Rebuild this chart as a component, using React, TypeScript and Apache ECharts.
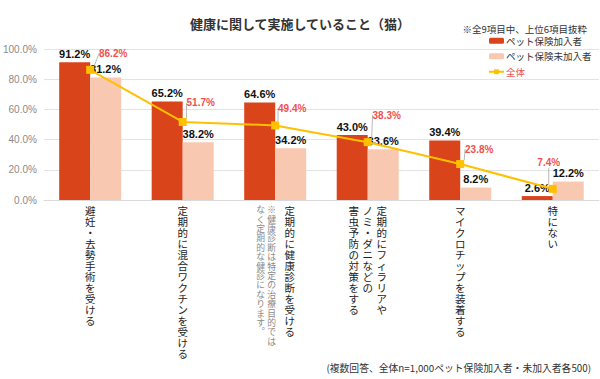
import React, { useEffect, useRef } from 'react';
import * as echarts from 'echarts';

// ---- data ----
const categoryLines: string[][] = [
  ['避妊・去勢手術を受ける'],
  ['定期的に混合ワクチンを受ける'],
  ['定期的に健康診断を受ける'],
  ['定期的にフィラリアや', 'ノミ・ダニなどの', '害虫予防の対策をする'],
  ['マイクロチップを装着する'],
  ['特にない'],
];
const categoryNotes: string[][] = [
  [],
  [],
  ['※健康診断は特定の治療目的では', 'なく定期的な健診になります︒'],
  [],
  [],
  [],
];
const insured = [91.2, 65.2, 64.6, 43.0, 39.4, 2.6];
const uninsured = [81.2, 38.2, 34.2, 33.6, 8.2, 12.2];
const overall = [86.2, 51.7, 49.4, 38.3, 23.8, 7.4];
const yTicks = [0, 20, 40, 60, 80, 100];
const seriesNames = ['ペット保険加入者', 'ペット保険未加入者', '全体'];
const titleText = '健康に関して実施していること（猫）';
const noteText = '※全9項目中、上位6項目抜粋';
const footText = '(複数回答、全体n=1,000ペット保険加入者・未加入者各500)';

// ---- styles / layout ----
const C_INS = '#D9441B';
const C_UNINS = '#F8C8B0';
const C_ALL = '#FFC000';
const C_RED = '#F05050';
const JP = '"Noto Sans CJK JP", "Noto Sans", sans-serif';
const NUM = '"Liberation Sans", Arial, sans-serif';
// label shift (dx, dy) of the overall line's labels relative to 'top' position
const overallLabelShift: [number, number][] = [
  [23, -2], [18, -5], [17, -3], [19, -13], [19, -1], [-4, -12],
];

const columnsOf = (i: number) => [
  ...categoryLines[i].map((t) => ({ t, note: false })),
  ...categoryNotes[i].map((t) => ({ t, note: true })),
];
const categories = categoryLines.map((l, i) => l.join('') + categoryNotes[i].join(''));

function columnOffsets(i: number): number[] {
  const cols = columnsOf(i);
  const xs: number[] = [0];
  for (let j = 1; j < cols.length; j++) {
    const prev = cols[j - 1];
    const cur = cols[j];
    const step = !prev.note && !cur.note ? 14 : !prev.note && cur.note ? 18 : 11;
    xs.push(xs[j - 1] - step);
  }
  const center = (xs[0] + xs[xs.length - 1]) / 2;
  return xs.map((x) => x - center);
}

const pct = (v: number) => v.toFixed(1) + '%';

export default function App() {
  const ref = useRef<HTMLDivElement>(null);
  useEffect(() => {
    if (!ref.current) return;
    document.body.style.margin = '0';
    const chart = echarts.init(ref.current, undefined, { renderer: 'svg' });
    const barLabel = {
      show: true,
      position: 'top',
      distance: 3,
      fontFamily: NUM,
      fontSize: 11,
      fontWeight: 'bold',
      color: '#111',
      formatter: (p: any) => pct(p.value),
    };
    chart.setOption({
      animation: false,
      backgroundColor: '#fff',
      title: [
        {
          text: titleText,
          left: 'center',
          top: 12,
          textStyle: { fontFamily: JP, fontSize: 13, fontWeight: 'bold', color: '#333' },
        },
        {
          text: noteText,
          right: 8,
          top: 19,
          textStyle: { fontFamily: JP, fontSize: 9.5, fontWeight: 'normal', color: '#333' },
        },
        {
          text: footText,
          right: 4,
          bottom: 1,
          textStyle: { fontFamily: JP, fontSize: 9.8, fontWeight: 'normal', color: '#333' },
        },
      ],
      legend: {
        orient: 'vertical',
        left: 483,
        top: 31,
        itemWidth: 15,
        itemHeight: 6,
        itemGap: 6,
        textStyle: { fontFamily: JP, fontSize: 9.5, color: '#333', padding: [0, 0, 0, -3] },
        data: [
          { name: seriesNames[0] },
          { name: seriesNames[1] },
          { name: seriesNames[2], textStyle: { color: C_RED } },
        ],
      },
      grid: { left: 42, right: 1, top: 49, bottom: 179 },
      xAxis: {
        type: 'category',
        data: categories,
        axisLine: { lineStyle: { color: '#d9d9d9' } },
        axisTick: { show: false },
        axisLabel: { show: false },
      },
      yAxis: {
        type: 'value',
        min: yTicks[0],
        max: yTicks[yTicks.length - 1],
        interval: yTicks[1] - yTicks[0],
        axisLine: { show: false },
        axisTick: { show: false },
        splitLine: { lineStyle: { color: '#e3e3e3' } },
        axisLabel: {
          margin: 7,
          fontFamily: NUM,
          fontSize: 10,
          color: '#8a8a8a',
          formatter: (v: number) => pct(v),
        },
      },
      series: [
        {
          name: seriesNames[0],
          type: 'bar',
          data: insured,
          barGap: '0%',
          barCategoryGap: '33%',
          itemStyle: { color: C_INS },
          label: barLabel,
        },
        {
          name: seriesNames[1],
          type: 'bar',
          data: uninsured,
          barGap: '0%',
          barCategoryGap: '33%',
          itemStyle: { color: C_UNINS },
          label: barLabel,
        },
        {
          name: seriesNames[2],
          type: 'line',
          data: overall,
          z: 5,
          symbol: 'rect',
          symbolSize: 8,
          itemStyle: { color: C_ALL },
          lineStyle: { color: C_ALL, width: 2 },
          label: {
            show: true,
            position: 'top',
            distance: 5,
            fontFamily: NUM,
            fontSize: 10,
            fontWeight: 'bold',
            color: C_RED,
            formatter: (p: any) => pct(p.value),
          },
          labelLine: { show: true, lineStyle: { color: '#a6a6a6', width: 0.8 } },
          labelLayout: (p: any) => {
            const s = overallLabelShift[p.dataIndex] || [0, 0];
            return { dx: s[0], dy: s[1] };
          },
        },
      ],
    });

    // vertical (tategaki) category labels, placed via the axis scales
    const y0 = chart.convertToPixel({ yAxisIndex: 0 }, 0) as number;
    const elems: any[] = [];
    categories.forEach((c, i) => {
      const cx = chart.convertToPixel({ xAxisIndex: 0 }, c) as number;
      const offs = columnOffsets(i);
      columnsOf(i).forEach((col, k) => {
        elems.push({
          type: 'text',
          x: cx + offs[k],
          y: y0 + 5,
          silent: true,
          style: {
            text: Array.from(col.t).join('\n'),
            fill: col.note ? '#8a8a8a' : '#222',
            fontFamily: JP,
            fontSize: col.note ? 8.8 : 10.5,
            lineHeight: col.note ? 9.4 : 11,
            align: 'center',
            verticalAlign: 'top',
          },
        });
      });
    });
    chart.setOption({ graphic: elems });

    return () => chart.dispose();
  }, []);
  return <div ref={ref} style={{ width: 600, height: 379 }} />;
}
